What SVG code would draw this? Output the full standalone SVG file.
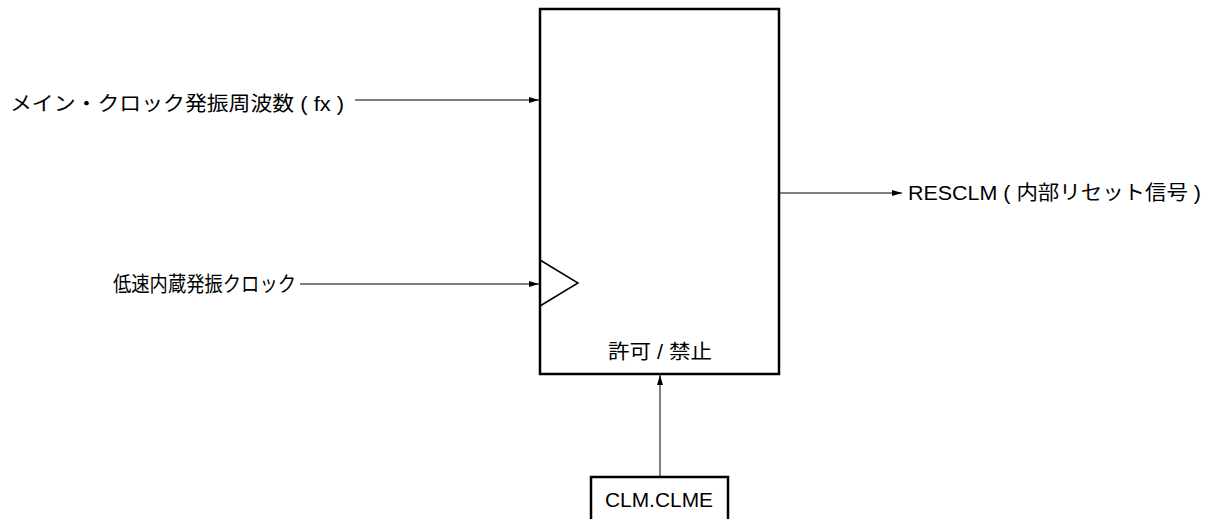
<svg xmlns="http://www.w3.org/2000/svg" width="1212" height="519" viewBox="0 0 1212 519">
<style>
text{font-family:"Liberation Sans","Noto Sans CJK JP",sans-serif;font-size:20px;fill:#000}
.box{fill:#fff;stroke:#000;stroke-width:2.5}
.ln{stroke:#000;stroke-width:1;fill:none}
</style>
<defs>
<marker id="ah" markerWidth="10" markerHeight="6" refX="10" refY="3" orient="auto" markerUnits="userSpaceOnUse">
<path d="M0,0 L10,3 L0,6 Z" fill="#000"/>
</marker>
</defs>
<g id="main">
<rect class="box" x="540" y="9" width="239" height="365"/>
<polyline points="540,260 578,283 540,306" fill="none" stroke="#000" stroke-width="1.5"/>
<text x="608" y="359" textLength="104" lengthAdjust="spacingAndGlyphs">許可 / 禁止</text>
</g>
<g id="clm">
<rect class="box" x="591" y="477" width="137" height="50"/>
<text x="605" y="507" textLength="108" lengthAdjust="spacingAndGlyphs">CLM.CLME</text>
</g>
<g id="in1"><text x="10" y="111" textLength="334" lengthAdjust="spacingAndGlyphs">メイン・クロック発振周波数 ( fx )</text></g>
<g id="in2"><text x="113" y="291" style="font-size:21px" textLength="183" lengthAdjust="spacingAndGlyphs">低速内蔵発振クロック</text></g>
<g id="out"><text x="908" y="200" textLength="293" lengthAdjust="spacingAndGlyphs">RESCLM ( 内部リセット信号 )</text></g>
<g id="connectors">
<line class="ln" x1="355" y1="100" x2="539" y2="100" marker-end="url(#ah)"/>
<line class="ln" x1="300" y1="284" x2="539" y2="284" marker-end="url(#ah)"/>
<line class="ln" x1="779" y1="193" x2="902" y2="193" marker-end="url(#ah)"/>
<line class="ln" x1="660" y1="477" x2="660" y2="375" marker-end="url(#ah)"/>
</g>
</svg>
